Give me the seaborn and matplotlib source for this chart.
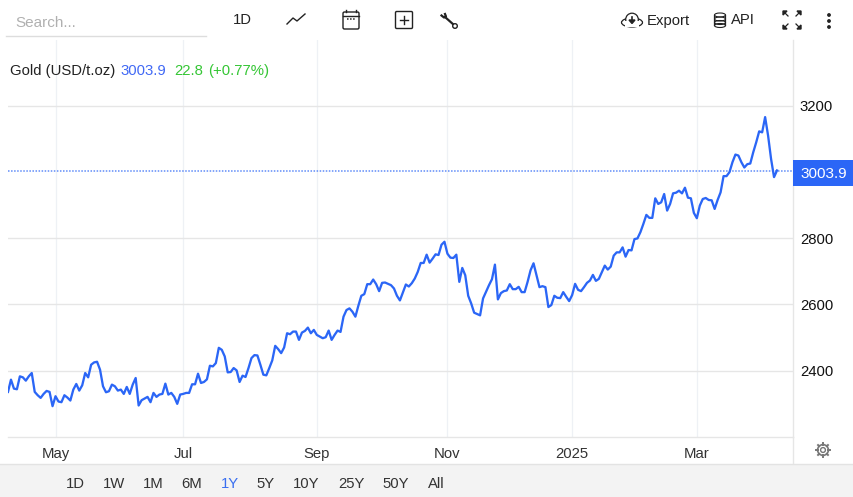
import numpy as np
import pandas as pd
import seaborn as sns
import matplotlib
matplotlib.use("Agg")
import matplotlib.pyplot as plt
from matplotlib.patches import Rectangle, FancyBboxPatch, Circle, Ellipse, Polygon

gold_close = [
 2336,2373,2346,2344,2383,2380,2370,2383,2393,2336,2326,2318,2330,2339,2336,2293,2323,2307,2305,2326,
 2319,2310,2343,2360,2340,2356,2393,2380,2418,2425,2427,2403,2353,2335,2338,2358,2353,2340,2343,2330,
 2351,2330,2358,2378,2295,2311,2316,2321,2305,2333,2321,2328,2330,2361,2328,2333,2321,2300,2328,2330,
 2333,2333,2359,2359,2391,2363,2366,2374,2415,2413,2423,2469,2463,2443,2395,2396,2408,2401,2366,2385,
 2381,2408,2438,2447,2446,2418,2388,2386,2408,2431,2475,2465,2453,
 2470,2513,2510,2518,2518,2493,2515,2520,2530,2513,2523,2508,2503,2498,2501,2521,2493,2508,2521,2517,
 2563,2583,2588,2578,2563,2596,2626,2631,2661,2661,2675,2661,2640,2665,2666,2662,2658,2648,2626,2612,
 2636,2660,2654,2664,2678,2698,2725,2725,2750,2726,2738,2751,2749,2780,2789,2753,2741,2740,2750,2668,
 2710,2688,2626,2603,2575,2571,2567,2618,2638,2658,2676,2720,2615,2634,2640,2642,2661,2646,2646,2653,
 2637,2637,2668,2703,2724,2688,2652,2655,2652,2592,2598,2626,2620,2619,2637,2623,2610,2628,2662,2644,2640,
 2652,2665,2672,2689,2671,2677,2697,2717,2705,2714,2747,2757,2757,2772,2744,2764,2763,2797,2799,2818,
 2843,2870,2861,2861,2920,2903,2908,2933,2883,2903,2935,2937,2943,2935,2952,2922,2920,2876,2860,2898,
 2918,2921,2915,2914,2888,2915,2938,2987,2987,2999,3029,3052,3049,3029,3013,3023,3025,3059,3089,3122,
 3119,3165,3109,3039,2984,3004,
]
month_sessions = [16, 59, 104, 148, 190, 232]
month_labels = ["May", "Jul", "Sep", "Nov", "2025", "Mar"]
price_ticks = [2400, 2600, 2800, 3000, 3200]
shown_price_ticks = [2400, 2600, 2800, 3200]
last_price = 3003.9
range_labels = ["1D", "1W", "1M", "6M", "1Y", "5Y", "10Y", "25Y", "50Y", "All"]

plt.rcParams["font.family"] = "Liberation Sans"
BLUE = "#2b66f6"
GRID = "#e6e6e6"
VGRID = "#eef1f5"
FS = 10.75
W, H = 854, 497
fig = plt.figure(figsize=(W / 100, H / 100), dpi=100, facecolor="white")

# chart area in pixels: x 8..793, y 40..437
ax = fig.add_axes([8 / W, 1 - 437 / H, (793 - 8) / W, (437 - 40) / H])
df = pd.DataFrame({"session": np.arange(len(gold_close)), "close": gold_close})
sns.lineplot(data=df, x="session", y="close", ax=ax, color=BLUE, lw=1.65, errorbar=None, zorder=5)
step = (777 - 8) / (len(gold_close) - 1)
ax.set_xlim(0, (793 - 8) / step)
ax.set_ylim(2200, 2200 + 397 * 200 / 66.3)
ax.set_xlabel("")
ax.set_ylabel("")
ax.set_xticks(month_sessions)
ax.set_xticklabels(month_labels)
ax.set_yticks(shown_price_ticks)
ax.yaxis.tick_right()
ax.tick_params(axis="both", length=0, labelsize=FS, colors="#111111")
ax.tick_params(axis="x", pad=7, labelcolor="#333333")
ax.tick_params(axis="y", pad=5)
ax.grid(False)
for m in month_sessions:
    ax.axvline(m, color=VGRID, lw=0.9, zorder=1)
for p in price_ticks:
    if p != 3000:
        ax.axhline(p, color=GRID, lw=1, zorder=1)
ax.axhline(last_price, color=BLUE, lw=1.1, ls=(0, (1, 1)), alpha=0.75, zorder=3)
for s in ["top", "left"]:
    ax.spines[s].set_visible(False)
ax.spines["bottom"].set_color(GRID)
ax.spines["right"].set_color(GRID)
ax.spines["bottom"].set_linewidth(1)
ax.spines["right"].set_linewidth(1)

# overlay in pixel coordinates for the page furniture
ov = fig.add_axes([0, 0, 1, 1], facecolor="none")
ov.set_xlim(0, W)
ov.set_ylim(H, 0)
ov.axis("off")

# latest-price tag
ov.add_patch(Rectangle((793, 160), 61, 26, color=BLUE, lw=0, zorder=6))
ov.text(823.5, 174, f"{last_price}", color="white", fontsize=11, ha="center", va="center", zorder=7)

# legend line
ov.text(10, 71, "Gold (USD/t.oz)", color="#222222", fontsize=FS, va="center")
ov.text(120, 71, "3003.9", color="#4169f5", fontsize=FS, va="center")
ov.text(174, 71, "22.8", color="#35c635", fontsize=FS, va="center")
ov.text(208, 71, "(+0.77%)", color="#35c635", fontsize=FS, va="center")

# search box and toolbar
ov.text(15, 23, "Search...", color="#b0b0b0", fontsize=11, va="center")
ov.plot([6, 206], [35.5, 35.5], color="#dddddd", lw=1)
ov.text(242, 20, "1D", color="#222222", fontsize=FS, ha="center", va="center")
ov.text(647, 20.5, "Export", color="#222222", fontsize=FS, va="center")
ov.text(731, 20.5, "API", color="#222222", fontsize=FS, va="center")

ic = "#222222"
ov.plot([287, 293, 297, 305], [24, 18, 21, 14], color=ic, lw=1)
ov.add_patch(FancyBboxPatch((343, 12), 16, 17, boxstyle="round,pad=0,rounding_size=1.5", fc="none", ec=ic, lw=1))
ov.plot([343, 359], [16, 16], color=ic, lw=1)
ov.plot([346, 346], [10, 12], color=ic, lw=1)
ov.plot([356, 356], [10, 12], color=ic, lw=1)
ov.plot([347, 355], [19, 19], color=ic, lw=1.1, ls=(0, (1, 1)))
ov.add_patch(FancyBboxPatch((395.5, 11.5), 17, 17, boxstyle="round,pad=0,rounding_size=1.2", fc="none", ec=ic, lw=1))
ov.plot([400, 408], [20, 20], color=ic, lw=1)
ov.plot([404, 404], [16, 24], color=ic, lw=1)
# wrench
ov.plot([445, 454], [17, 25], color=ic, lw=1.6)
ov.plot([441.5, 444, 446, 445], [15.5, 17.5, 16.5, 14], color=ic, lw=1.6)
ov.add_patch(Circle((455, 26), 2.3, fc="white", ec=ic, lw=1, zorder=4))

# export cloud
ov.add_patch(Ellipse((632, 22.5), 21, 9, fc="none", ec=ic, lw=0.9))
ov.add_patch(Circle((632, 19.5), 6.3, fc="white", ec=ic, lw=0.9, zorder=3))
ov.add_patch(Rectangle((625, 20.5), 14, 6, fc="white", ec="none", zorder=3.5))
ov.add_patch(Polygon([[629, 20], [635, 20], [632, 23.5]], color=ic, zorder=4))
ov.plot([632, 632], [17, 21], color=ic, lw=1.2, zorder=4)

# database
ov.add_patch(Rectangle((714.5, 15), 11, 11, fc="white", ec="none"))
ov.plot([714.5, 714.5], [15, 25], color=ic, lw=0.9)
ov.plot([725.5, 725.5], [15, 25], color=ic, lw=0.9)
for y in [15, 19, 22.5, 25.5]:
    ov.add_patch(Ellipse((720, y), 11, 4, fc="none", ec=ic, lw=0.8))

# fullscreen arrows
for cx, cy, dx, dy in [(783, 11, 1, 1), (801, 11, -1, 1), (783, 29, 1, -1), (801, 29, -1, -1)]:
    ov.add_patch(Polygon([[cx, cy], [cx + 4 * dx, cy], [cx, cy + 4 * dy]], color=ic))
    ov.plot([cx + 1 * dx, cx + 5 * dx], [cy + 1 * dy, cy + 5 * dy], color=ic, lw=0.9)

# kebab
for y in [15, 21, 27]:
    ov.add_patch(Circle((829, y), 1.2, color=ic))

# gear
gear = "#777777"
ov.add_patch(Circle((823, 450), 5.4, fc="none", ec=gear, lw=1.2))
ov.add_patch(Circle((823, 450), 2.4, fc="none", ec=gear, lw=1))
for a in np.deg2rad(np.arange(0, 360, 45)):
    ov.plot([823 + 5.4 * np.cos(a), 823 + 7 * np.cos(a)],
            [450 + 5.4 * np.sin(a), 450 + 7 * np.sin(a)], color=gear, lw=1.4)

# bottom strip
ov.add_patch(Rectangle((0, 463.5), W, H - 463.5, fc="#f3f3f3", ec="none"))
ov.plot([0, W], [463.5, 463.5], color="#e3e3e3", lw=1)
ov.plot([793.5, 793.5], [437, 463], color=GRID, lw=1)
for lab, x in zip(range_labels, [75, 114, 153, 192, 230, 266, 306, 351, 396, 436]):
    ov.text(x, 484.5, lab, color=("#3a6ff0" if lab == "1Y" else "#333333"),
            fontsize=FS, ha="center", va="center")

fig.savefig("out.png", dpi=100, facecolor="white")
